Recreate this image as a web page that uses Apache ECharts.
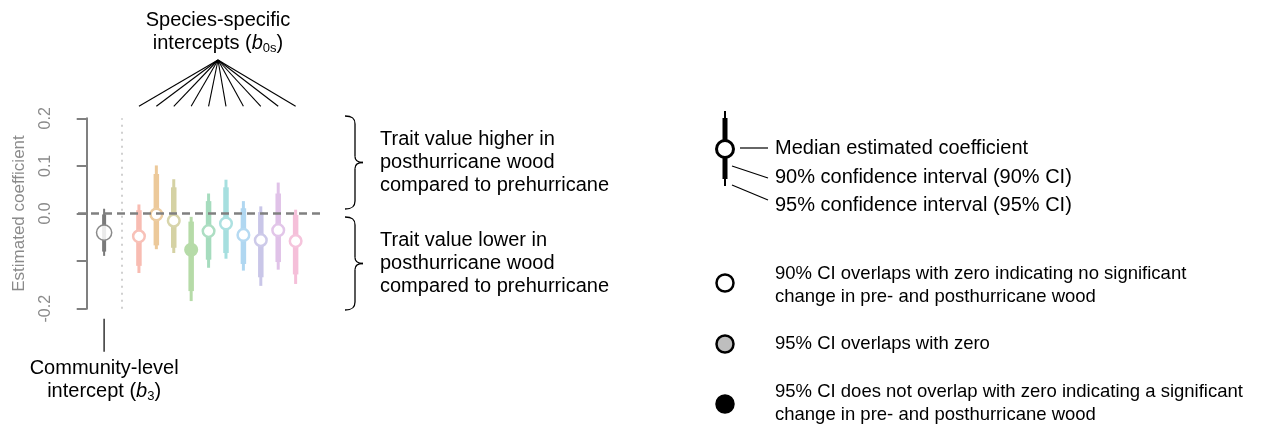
<!DOCTYPE html>
<html><head><meta charset="utf-8">
<script src="https://cdn.jsdelivr.net/npm/echarts@6/dist/echarts.min.js"></script>
<style>html,body{margin:0;padding:0;background:#fff}#c{width:1281px;height:427px}</style>
</head><body><div id="c"></div>
<script>
// ---- data ----
const yTickLabels = ['-0.2', '', '0.0', '0.1', '0.2'];
const communityLo95 = -0.089, communityLo90 = -0.080, communityMedian = -0.040, communityHi90 = -0.002, communityHi95 = 0.010;
const speciesMedian = [-0.048, -0.002, -0.015, -0.076, -0.037, -0.021, -0.045, -0.056, -0.035, -0.058];
const speciesLo95   = [-0.125, -0.075, -0.083, -0.184, -0.114, -0.095, -0.120, -0.152, -0.118, -0.148];
const speciesLo90   = [-0.110, -0.067, -0.072, -0.163, -0.097, -0.083, -0.106, -0.134, -0.102, -0.128];
const speciesHi90   = [ 0.007,  0.083,  0.055, -0.017,  0.026,  0.055,  0.011,  0.003,  0.042, -0.003];
const speciesHi95   = [ 0.019,  0.101,  0.072, -0.007,  0.042,  0.071,  0.026,  0.015,  0.065,  0.008];
const speciesFilled = [0, 0, 0, 1, 0, 0, 0, 0, 0, 0];
const speciesColors = ['#F8BCB2', '#ECC99A', '#D5D2A4', '#B6DBA8', '#A6DCBE', '#A6DFDF', '#B0D7F1', '#C9C6E8', '#E0C2E8', '#F5BFD9'];

const FONT = '"Liberation Sans", Arial, sans-serif';
const chart = echarts.init(document.getElementById('c'), null, {renderer: 'canvas'});

const data = [[1, communityLo95, communityLo90, communityMedian, communityHi90, communityHi95, -1, 0]];
speciesMedian.forEach((m, i) => {
  data.push([3 + i, speciesLo95[i], speciesLo90[i], m, speciesHi90[i], speciesHi95[i], i, speciesFilled[i]]);
});

function renderItem(params, api) {
  const x = api.value(0);
  const p = v => api.coord([x, v]);
  const lo95 = p(api.value(1)), lo90 = p(api.value(2)), med = p(api.value(3)), hi90 = p(api.value(4)), hi95 = p(api.value(5));
  const idx = api.value(6), filled = api.value(7);
  const comm = idx < 0;
  const color = comm ? '#7a7a7a' : speciesColors[idx];
  const ring = comm ? '#8a8a8a' : echarts.color.lift(color, 0.08);
  return {type: 'group', children: [
    {type: 'line', shape: {x1: lo95[0], y1: lo95[1], x2: hi95[0], y2: hi95[1]}, style: {stroke: color, lineWidth: comm ? 2 : 3}},
    {type: 'line', shape: {x1: lo90[0], y1: lo90[1], x2: hi90[0], y2: hi90[1]}, style: {stroke: color, lineWidth: comm ? 4 : 5.5}},
    {type: 'circle', shape: {cx: med[0], cy: med[1], r: comm ? 7.6 : 5.8},
     style: {fill: filled ? color : (comm ? 'rgba(255,255,255,0.85)' : '#ffffff'), stroke: filled ? color : ring, lineWidth: comm ? 1.5 : 2.5}}
  ]};
}

chart.setOption({
  animation: false,
  grid: {left: 78, top: 118.3, width: 242, height: 190.4, containLabel: false},
  xAxis: {type: 'value', min: -0.5, max: 13.4, show: false},
  yAxis: {
    type: 'value', min: -0.2, max: 0.2, interval: 0.1,
    axisLine: {show: true, lineStyle: {color: '#808080', width: 2}},
    axisTick: {show: true, length: 10, lineStyle: {color: '#808080', width: 2}},
    splitLine: {show: false},
    axisLabel: {
      rotate: 90, margin: 24, color: '#8a8a8a', fontSize: 16, fontFamily: FONT,
      formatter: (v) => yTickLabels[Math.round((v + 0.2) * 10)]
    },
    name: 'Estimated coefficient', nameLocation: 'middle', nameGap: 50,
    nameTextStyle: {color: '#8a8a8a', fontSize: 17, fontFamily: FONT}
  },
  series: [{
    type: 'custom', renderItem, data, silent: true,
    markLine: {
      silent: true, symbol: 'none', label: {show: false},
      data: [
        {yAxis: 0, lineStyle: {color: '#808080', type: [8, 5], width: 2.5}},
        {xAxis: 2, lineStyle: {color: '#d0d0d0', type: [2, 5], width: 2}}
      ]
    }
  }]
});

// ---- annotations ----
const apex = [218, 60];
const g = [];
speciesMedian.forEach((m, i) => {
  const px = chart.convertToPixel({gridIndex: 0}, [3 + i, 0.2]);
  g.push({type: 'line', shape: {x1: apex[0], y1: apex[1], x2: px[0], y2: px[1] - 12}, style: {stroke: '#000', lineWidth: 1.1}});
});
const cPx = chart.convertToPixel({gridIndex: 0}, [1, -0.2]);
g.push({type: 'line', shape: {x1: cPx[0], y1: cPx[1] + 10, x2: cPx[0], y2: cPx[1] + 43}, style: {stroke: '#333', lineWidth: 1.5}});

const FS = 20, FS2 = 18.5;
function txt(text, x, y, align, extra) {
  return {type: 'text', style: Object.assign({text, x, y, fill: '#000', fontSize: FS, fontFamily: FONT, textAlign: align || 'left', textVerticalAlign: 'middle'}, extra || {})};
}
const richSub = {
  n: {fontSize: FS, fontFamily: FONT, lineHeight: 24},
  i: {fontSize: FS, fontFamily: FONT, fontStyle: 'italic', lineHeight: 24},
  s: {fontSize: 13, fontFamily: FONT, lineHeight: 24, verticalAlign: 'bottom'}
};
g.push(txt('Species-specific', 218, 20, 'center'));
g.push(txt('{n|intercepts (}{i|b}{s|0s}{n|)}', 218, 43, 'center', {rich: richSub}));
g.push(txt('Community-level', cPx[0], 368, 'center'));
g.push(txt('{n|intercept (}{i|b}{s|3}{n|)}', cPx[0], 391, 'center', {rich: richSub}));

// braces
function brace(x0, y0, y1) {
  const xm = x0 + 10, tip = x0 + 18, ym = (y0 + y1) / 2;
  const st = {stroke: '#000', lineWidth: 1.3, fill: null};
  return {type: 'group', children: [
    {type: 'bezierCurve', shape: {x1: x0, y1: y0, cpx1: x0 + 7, cpy1: y0, cpx2: xm, cpy2: y0 + 2, x2: xm, y2: y0 + 8}, style: st},
    {type: 'line', shape: {x1: xm, y1: y0 + 8, x2: xm, y2: ym - 6}, style: st},
    {type: 'bezierCurve', shape: {x1: xm, y1: ym - 6, cpx1: xm, cpy1: ym - 2, cpx2: xm + 3, cpy2: ym, x2: tip, y2: ym}, style: st},
    {type: 'bezierCurve', shape: {x1: tip, y1: ym, cpx1: xm + 3, cpy1: ym, cpx2: xm, cpy2: ym + 2, x2: xm, y2: ym + 6}, style: st},
    {type: 'line', shape: {x1: xm, y1: ym + 6, x2: xm, y2: y1 - 8}, style: st},
    {type: 'bezierCurve', shape: {x1: xm, y1: y1 - 8, cpx1: xm, cpy1: y1 - 2, cpx2: x0 + 7, cpy2: y1, x2: x0, y2: y1}, style: st}
  ]};
}
g.push(brace(345, 116, 209));
g.push(brace(345, 217, 310));
g.push(txt('Trait value higher in', 380, 139));
g.push(txt('posthurricane wood', 380, 162));
g.push(txt('compared to prehurricane', 380, 185));
g.push(txt('Trait value lower in', 380, 240));
g.push(txt('posthurricane wood', 380, 263));
g.push(txt('compared to prehurricane', 380, 286));

// legend glyph
const lx = 725;
g.push({type: 'line', shape: {x1: lx, y1: 111, x2: lx, y2: 186}, style: {stroke: '#000', lineWidth: 2}});
g.push({type: 'line', shape: {x1: lx, y1: 118, x2: lx, y2: 179}, style: {stroke: '#000', lineWidth: 5}});
g.push({type: 'circle', shape: {cx: lx, cy: 149, r: 8.5}, style: {fill: '#fff', stroke: '#000', lineWidth: 3}});
g.push({type: 'line', shape: {x1: 740, y1: 148, x2: 768, y2: 148}, style: {stroke: '#000', lineWidth: 1.2}});
g.push({type: 'line', shape: {x1: 732, y1: 166, x2: 768, y2: 178}, style: {stroke: '#000', lineWidth: 1.2}});
g.push({type: 'line', shape: {x1: 732, y1: 185, x2: 768, y2: 200}, style: {stroke: '#000', lineWidth: 1.2}});
g.push(txt('Median estimated coefficient', 775, 148));
g.push(txt('90% confidence interval (90% CI)', 775, 177));
g.push(txt('95% confidence interval (95% CI)', 775, 205));

g.push({type: 'circle', shape: {cx: lx, cy: 283, r: 8.5}, style: {fill: '#fff', stroke: '#000', lineWidth: 2.5}});
g.push({type: 'circle', shape: {cx: lx, cy: 344, r: 8.5}, style: {fill: '#bebebe', stroke: '#000', lineWidth: 2.5}});
g.push({type: 'circle', shape: {cx: lx, cy: 404, r: 8.5}, style: {fill: '#000', stroke: '#000', lineWidth: 2.5}});
const s2 = {fontSize: FS2};
g.push(txt('90% CI overlaps with zero indicating no significant', 775, 274, 'left', s2));
g.push(txt('change in pre- and posthurricane wood', 775, 297, 'left', s2));
g.push(txt('95% CI overlaps with zero', 775, 344, 'left', s2));
g.push(txt('95% CI does not overlap with zero indicating a significant', 775, 392, 'left', s2));
g.push(txt('change in pre- and posthurricane wood', 775, 415, 'left', s2));

chart.setOption({graphic: g});
</script>
</body></html>
